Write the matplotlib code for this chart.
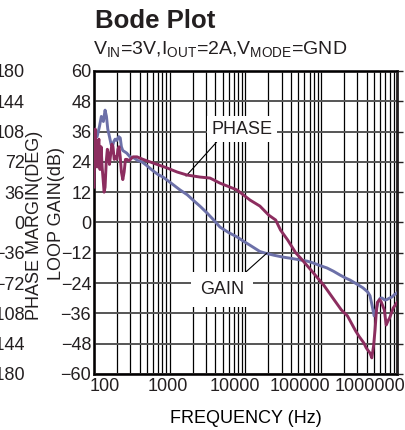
import matplotlib
matplotlib.use("Agg")
import matplotlib.pyplot as plt
from matplotlib.ticker import NullFormatter
from matplotlib.transforms import ScaledTranslation

plt.rcParams["font.family"] = ["Liberation Sans", "DejaVu Sans"]
plt.rcParams["mathtext.fontset"] = "custom"
plt.rcParams["mathtext.rm"] = "Liberation Sans"
plt.rcParams["text.color"] = "#231f20"

# Data
gain_freq = [100, 104, 110, 118, 125, 133, 140, 146, 152, 160, 168, 175, 182, 190,
             200, 212, 222, 230, 240, 270, 299, 340, 380, 430, 500, 583, 700, 815,
             1000, 1365, 1700, 2027, 2500, 3100, 3800, 4600, 6000, 7720, 9500,
             11460, 15500, 18070, 24000, 31250, 40000, 52400, 65000, 77900, 95000,
             119000, 145000, 176700, 210000, 239700, 300000, 355800, 410000,
             440000, 470000, 500000, 525000, 561000, 600000, 634000, 690000,
             738000, 800000, 859000, 930000, 1000000]
gain_db = [37.5, 36, 34, 38, 42, 40, 44.5, 42, 37, 34, 31, 30, 32, 33,
           32.5, 34, 33.5, 30, 28.5, 27.5, 26, 25.5, 24.5, 24, 22.5, 20.8, 19, 18,
           16, 12.9, 11, 8.9, 6.5, 3.8, 1, -1.8, -4, -5.7, -7.5,
           -9, -11.5, -12.1, -13, -13.7, -14.2, -14.8, -15.3, -16, -17,
           -18, -19.3, -20.8, -22, -22.8, -24.5, -25.9, -27.5,
           -29, -33, -37, -35, -31.5, -30, -29.9, -30.7,
           -30.5, -29.9, -29.5, -28.5, -27.9]

phase_freq = [100, 102, 104, 107, 110, 113, 116, 120, 124, 128, 132, 136, 140, 145,
              150, 155, 160, 166, 172, 178, 185, 192, 200, 207, 214, 222, 230, 240,
              250, 260, 272, 290, 327, 370, 443, 548, 680, 920, 1250, 1690, 2500,
              3400, 4600, 7720, 11460, 15500, 20300, 25000, 29000, 36000, 46000,
              53000, 74000, 109000, 143000, 184000, 222000, 285000, 319000, 365000,
              393000, 440000, 465000, 490000, 513000, 530000, 550000, 590000,
              620000, 680000, 720000, 760000, 800000, 890000, 1000000]
phase_deg = [42, 90, 111, 81, 66, 90, 99, 63, 90, 66, 51, 36, 42, 72,
             87, 81, 69, 81, 93, 90, 75, 78, 75, 87, 90, 78, 60, 51,
             60, 75, 75, 73.5, 78, 78, 75, 72, 69, 64.8, 60, 56.4, 54,
             52.8, 46.8, 38.7, 26.7, 19.5, 8.7, 3, -9, -20.7, -36,
             -42, -57, -75, -90, -103.8, -111, -129, -135.9, -143.1,
             -149.1, -155.1, -160.8, -147, -127.8, -109.5, -95.1, -91.5,
             -94.5, -103.8, -121.8, -117, -113.4, -101.7, -95.1]

gain_ticks = [60, 48, 36, 24, 12, 0, -12, -24, -36, -48, -60]
phase_ticks = [180, 144, 108, 72, 36, 0, -36, -72, -108, -144, -180]
freq_ticks = [100, 1000, 10000, 100000, 1000000]

fig = plt.figure(figsize=(4.06, 4.30), dpi=100)
ax = fig.add_axes([94 / 406, 56 / 430, 303 / 406, 303 / 430])

ax.set_xscale("log")
ax.set_xlim(100, 1000000)
ax.set_ylim(-60, 60)
ax.set_xticks(freq_ticks)
ax.set_xticklabels([str(f) for f in freq_ticks])
ax.xaxis.set_minor_formatter(NullFormatter())
ax.set_yticks(gain_ticks)
ax.tick_params(axis="both", which="both", length=0, labelsize=13, colors="#231f20")
ax.tick_params(axis="x", pad=3)
ax.tick_params(axis="y", pad=2)
ax.grid(True, axis="x", which="both", color="black", lw=0.9)
ax.grid(True, axis="y", which="major", color="#555555", lw=1.4)
for s in ax.spines.values():
    s.set_linewidth(2)
    s.set_color("#231f20")

# the datasheet prints its frequency labels a bit off the decade lines
shifts = [11, -2, -11, -21, -27]
for lab, dx in zip(ax.get_xticklabels(), shifts):
    lab.set_transform(lab.get_transform() + ScaledTranslation(dx / 100, 0, fig.dpi_scale_trans))

ax.plot(gain_freq, gain_db, color="#6c70a8", lw=2.1, zorder=3)
ax.set_xlabel("FREQUENCY (Hz)", fontsize=13, labelpad=11)

# phase axis (right side, mostly off the picture)
ax2 = ax.twinx()
ax2.set_ylim(-180, 180)
ax2.set_yticks(phase_ticks)
ax2.tick_params(axis="y", length=4, width=1.0, labelsize=13, pad=1, colors="#231f20")
ax2.spines["right"].set_visible(False)
ax2.plot(phase_freq, phase_deg, color="#8c2d5f", lw=2.1, zorder=4)

# phase labels on the far left
ax3 = ax.twinx()
ax3.set_ylim(-180, 180)
ax3.yaxis.tick_left()
ax3.spines["left"].set_position(("outward", 50))
for s in ax3.spines.values():
    s.set_visible(False)
ax3.set_yticks(phase_ticks)
ax3.tick_params(axis="y", length=0, labelsize=13, pad=0, colors="#231f20")

fig.text(35 / 406, 1 - 225 / 430, "PHASE MARGIN(DEG)", fontsize=13,
         rotation=90, ha="center", va="center")
fig.text(57 / 406, 1 - 213 / 430, "LOOP GAIN(dB)", fontsize=13,
         rotation=90, ha="center", va="center")

box = dict(boxstyle="square,pad=0.25", fc="white", ec="none")
ax.annotate("PHASE", xy=(1640, 18.4), xytext=(9000, 37), fontsize=13,
            ha="center", va="center", bbox=box, zorder=6,
            arrowprops=dict(arrowstyle="-", color="black", lw=0.8,
                            relpos=(0.15, 0.0), shrinkA=0, shrinkB=0))
ax.annotate("GAIN", xy=(19200, -12.1), xytext=(4900, -26.7), fontsize=13,
            ha="center", va="center", bbox=dict(boxstyle="square,pad=0.5", fc="white", ec="none"),
            zorder=6,
            arrowprops=dict(arrowstyle="-", color="black", lw=0.8,
                            relpos=(0.8, 1.0), shrinkA=0, shrinkB=0))

fig.text(95 / 406, 1 - 28 / 430, "Bode Plot", fontsize=18.5, fontweight="bold")
fig.text(93 / 406, 1 - 55 / 430,
         r"V$_{\mathrm{IN}}$=3V,I$_{\mathrm{OUT}}$=2A,V$_{\mathrm{MODE}}$=GND",
         fontsize=14)

fig.savefig("out.png", dpi=100)
